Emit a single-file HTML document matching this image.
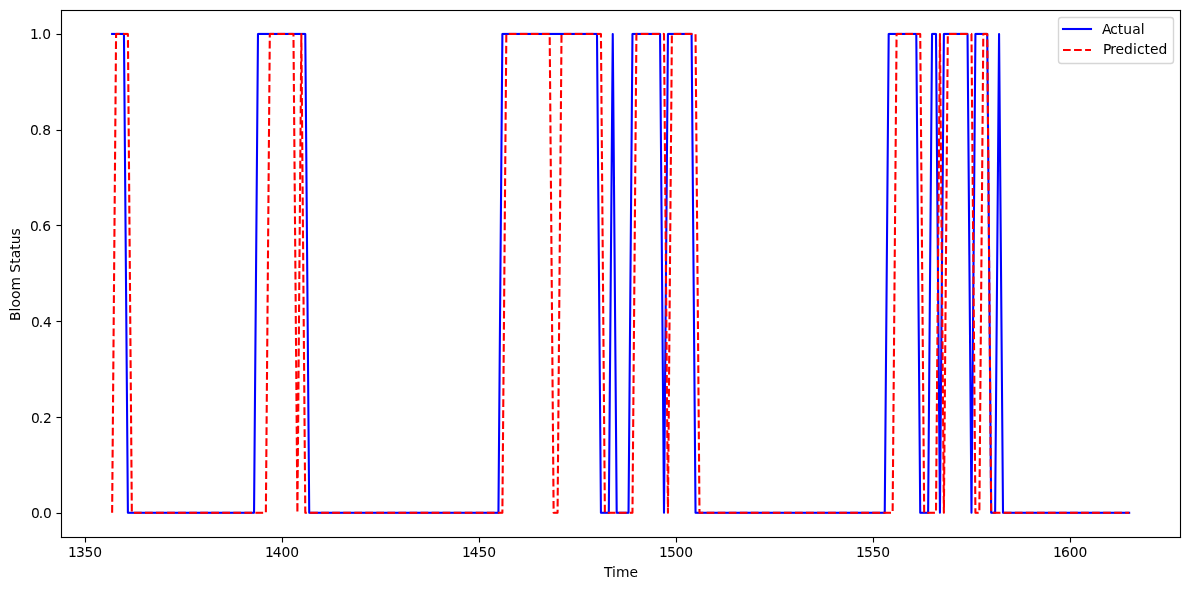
<!DOCTYPE html>
<html lang="en">
<head>
<meta charset="utf-8">
<title>Bloom Status: Actual vs Predicted</title>
<style>
html,body{margin:0;padding:0;background:#fff;}
body{width:1189px;height:590px;overflow:hidden;}
svg{display:block;}
text{font-family:"DejaVu Sans","Liberation Sans",sans-serif;font-size:13.8889px;fill:#000;}
</style>
</head>
<body>
<svg width="1189" height="590" viewBox="0 0 1189 590">
<rect x="0" y="0" width="1189" height="590" fill="#ffffff"/>
<g fill="none" stroke-width="2.0833">
<path d="M112.129 33.942 L123.955 33.942 L127.897 512.780 L254.039 512.780 L257.981 33.942 L305.284 33.942 L309.226 512.780 L498.439 512.780 L502.381 33.942 L596.987 33.942 L600.929 512.780 L608.813 512.780 L612.755 33.942 L616.697 512.780 L628.523 512.780 L632.465 33.942 L660.058 33.942 L664.000 512.780 L667.942 33.942 L691.594 33.942 L695.536 512.780 L884.749 512.780 L888.691 33.942 L916.284 33.942 L920.226 512.780 L928.110 512.780 L932.052 33.942 L935.994 33.942 L939.936 512.780 L943.878 33.942 L967.530 33.942 L971.471 512.780 L975.413 33.942 L987.239 33.942 L991.181 512.780 L995.123 512.780 L999.065 33.942 L1003.007 512.780 L1129.149 512.780" stroke="#0000ff" stroke-linecap="square" stroke-linejoin="round"/>
<path d="M111.09 32.5H123.95" stroke="#0000ff" stroke-width="1" stroke-opacity="0.100"/>
<path d="M127.90 513.5H254.04" stroke="#0000ff" stroke-width="1" stroke-opacity="0.288"/>
<path d="M257.98 32.5H305.28" stroke="#0000ff" stroke-width="1" stroke-opacity="0.100"/>
<path d="M309.23 513.5H498.44" stroke="#0000ff" stroke-width="1" stroke-opacity="0.288"/>
<path d="M502.38 32.5H596.99" stroke="#0000ff" stroke-width="1" stroke-opacity="0.100"/>
<path d="M600.93 513.5H608.81" stroke="#0000ff" stroke-width="1" stroke-opacity="0.288"/>
<path d="M616.70 513.5H628.52" stroke="#0000ff" stroke-width="1" stroke-opacity="0.288"/>
<path d="M632.46 32.5H660.06" stroke="#0000ff" stroke-width="1" stroke-opacity="0.100"/>
<path d="M667.94 32.5H691.59" stroke="#0000ff" stroke-width="1" stroke-opacity="0.100"/>
<path d="M695.54 513.5H884.75" stroke="#0000ff" stroke-width="1" stroke-opacity="0.288"/>
<path d="M888.69 32.5H916.28" stroke="#0000ff" stroke-width="1" stroke-opacity="0.100"/>
<path d="M920.23 513.5H928.11" stroke="#0000ff" stroke-width="1" stroke-opacity="0.288"/>
<path d="M932.05 32.5H935.99" stroke="#0000ff" stroke-width="1" stroke-opacity="0.100"/>
<path d="M943.88 32.5H967.53" stroke="#0000ff" stroke-width="1" stroke-opacity="0.100"/>
<path d="M975.41 32.5H987.24" stroke="#0000ff" stroke-width="1" stroke-opacity="0.100"/>
<path d="M991.18 513.5H995.12" stroke="#0000ff" stroke-width="1" stroke-opacity="0.288"/>
<path d="M1003.01 513.5H1130.19" stroke="#0000ff" stroke-width="1" stroke-opacity="0.288"/>
<path d="M112.129 512.780 L116.071 33.942 L127.897 33.942 L131.838 512.780 L265.864 512.780 L269.806 33.942 L293.458 33.942 L297.400 512.780 L301.342 33.942 L305.284 512.780 L502.381 512.780 L506.323 33.942 L549.684 33.942 L553.626 512.780 L557.568 512.780 L561.510 33.942 L600.929 33.942 L604.871 512.780 L632.465 512.780 L636.407 33.942 L664.000 33.942 L667.942 512.780 L671.884 33.942 L695.536 33.942 L699.478 512.780 L892.633 512.780 L896.575 33.942 L920.226 33.942 L924.168 512.780 L935.994 512.780 L939.936 33.942 L943.878 512.780 L947.820 33.942 L971.471 33.942 L975.413 512.780 L979.355 512.780 L983.297 33.942 L987.239 33.942 L991.181 512.780 L1129.149 512.780" stroke="#ff0000" stroke-linecap="butt" stroke-linejoin="round" stroke-dasharray="7.7083 3.3333"/>
<path d="M116.07 32.5H127.90" stroke="#ff0000" stroke-width="1" stroke-opacity="0.100" stroke-dasharray="7.7083 3.3333" stroke-dashoffset="4.063"/>
<path d="M131.84 513.5H265.86" stroke="#ff0000" stroke-width="1" stroke-opacity="0.288" stroke-dasharray="7.7083 3.3333" stroke-dashoffset="8.910"/>
<path d="M269.81 32.5H293.46" stroke="#ff0000" stroke-width="1" stroke-opacity="0.100" stroke-dasharray="7.7083 3.3333" stroke-dashoffset="3.457"/>
<path d="M305.28 513.5H502.38" stroke="#ff0000" stroke-width="1" stroke-opacity="0.288" stroke-dasharray="7.7083 3.3333" stroke-dashoffset="6.173"/>
<path d="M506.32 32.5H549.68" stroke="#ff0000" stroke-width="1" stroke-opacity="0.100" stroke-dasharray="7.7083 3.3333" stroke-dashoffset="8.583"/>
<path d="M553.63 513.5H557.57" stroke="#ff0000" stroke-width="1" stroke-opacity="0.288" stroke-dasharray="7.7083 3.3333" stroke-dashoffset="0.799"/>
<path d="M561.51 32.5H600.93" stroke="#ff0000" stroke-width="1" stroke-opacity="0.100" stroke-dasharray="7.7083 3.3333" stroke-dashoffset="8.803"/>
<path d="M604.87 513.5H632.46" stroke="#ff0000" stroke-width="1" stroke-opacity="0.288" stroke-dasharray="7.7083 3.3333" stroke-dashoffset="8.119"/>
<path d="M636.41 32.5H664.00" stroke="#ff0000" stroke-width="1" stroke-opacity="0.100" stroke-dasharray="7.7083 3.3333" stroke-dashoffset="6.651"/>
<path d="M671.88 32.5H695.54" stroke="#ff0000" stroke-width="1" stroke-opacity="0.100" stroke-dasharray="7.7083 3.3333" stroke-dashoffset="9.245"/>
<path d="M699.48 513.5H892.63" stroke="#ff0000" stroke-width="1" stroke-opacity="0.288" stroke-dasharray="7.7083 3.3333" stroke-dashoffset="3.835"/>
<path d="M896.57 32.5H920.23" stroke="#ff0000" stroke-width="1" stroke-opacity="0.100" stroke-dasharray="7.7083 3.3333" stroke-dashoffset="2.303"/>
<path d="M924.17 513.5H935.99" stroke="#ff0000" stroke-width="1" stroke-opacity="0.288" stroke-dasharray="7.7083 3.3333" stroke-dashoffset="7.934"/>
<path d="M947.82 32.5H971.47" stroke="#ff0000" stroke-width="1" stroke-opacity="0.100" stroke-dasharray="7.7083 3.3333" stroke-dashoffset="9.865"/>
<path d="M975.41 513.5H979.36" stroke="#ff0000" stroke-width="1" stroke-opacity="0.288" stroke-dasharray="7.7083 3.3333" stroke-dashoffset="4.455"/>
<path d="M983.30 32.5H987.24" stroke="#ff0000" stroke-width="1" stroke-opacity="0.100" stroke-dasharray="7.7083 3.3333" stroke-dashoffset="1.418"/>
<path d="M991.18 513.5H1129.15" stroke="#ff0000" stroke-width="1" stroke-opacity="0.288" stroke-dasharray="7.7083 3.3333" stroke-dashoffset="9.423"/>
</g>
<g stroke="#000" fill="none" stroke-linecap="butt">
<path d="M61.5 10.0V538.0M1180.5 10.0V538.0" stroke-width="3" stroke-opacity="0.0556"/>
<path d="M61.5 9.0V539.0M1180.5 9.0V539.0" stroke-width="1" stroke-opacity="0.0556"/>
<path d="M61.0 10.5H1181.0M61.0 537.5H1181.0" stroke-width="3" stroke-opacity="0.0556"/>
<path d="M60.0 10.5H1182.0M60.0 537.5H1182.0" stroke-width="1" stroke-opacity="0.0556"/>
<path d="M85.5 537.5V542.5M282.5 537.5V542.5M479.5 537.5V542.5M676.5 537.5V542.5M873.5 537.5V542.5M1070.5 537.5V542.5M61.5 513.5H56.5M61.5 417.5H56.5M61.5 321.5H56.5M61.5 225.5H56.5M61.5 130.5H56.5M61.5 34.5H56.5" stroke-width="3" stroke-opacity="0.0556"/>
<path d="M61 10H1181V538H61ZM62 11V537H1180V11Z" fill="#000" fill-rule="evenodd" stroke="none"/>
<path d="M85.5 537.5V542.5M282.5 537.5V542.5M479.5 537.5V542.5M676.5 537.5V542.5M873.5 537.5V542.5M1070.5 537.5V542.5M61.5 513.5H56.5M61.5 417.5H56.5M61.5 321.5H56.5M61.5 225.5H56.5M61.5 130.5H56.5M61.5 34.5H56.5" stroke-width="1"/>
</g>
<rect x="1058.5" y="17.5" width="115" height="46" rx="2.778" ry="2.778" fill="#ffffff" fill-opacity="0.8" stroke="#cccccc" stroke-opacity="0.8" stroke-width="1.3889"/>
<path d="M1063 29H1091" stroke="#0000ff" stroke-width="2.0833" stroke-linecap="square" fill="none"/>
<path d="M1063 50H1091" stroke="#ff0000" stroke-width="2.0833" stroke-linecap="butt" stroke-dasharray="7.7083 3.3333" fill="none"/>
<text x="68.00 76.00 84.50 93.25" y="557">1350</text>
<text x="265.00 272.75 281.50 290.25" y="557">1400</text>
<text x="462.00 469.75 478.50 487.25" y="557">1450</text>
<text x="659.00 667.00 675.50 684.25" y="557">1500</text>
<text x="856.00 864.00 872.50 881.25" y="557">1550</text>
<text x="1053.00 1061.00 1069.75 1078.50" y="557">1600</text>
<text x="31.00 38.75 43.00" y="518">0.0</text>
<text x="31.00 38.75 43.00" y="423">0.2</text>
<text x="31.00 38.75 43.00" y="327">0.4</text>
<text x="30.00 37.75 42.25" y="231">0.6</text>
<text x="30.00 37.75 42.25" y="135">0.8</text>
<text x="30.00 37.75 42.25" y="39">1.0</text>
<text x="604.00 612.00 616.00 629.50" y="577">Time</text>
<text x="1102.00 1110.25 1117.75 1123.25 1132.25 1140.75" y="34">Actual</text>
<text x="1103.00 1110.25 1115.50 1124.00 1133.00 1137.00 1144.50 1150.00 1158.50" y="54">Predicted</text>
<text transform="translate(19.500 320.924) rotate(-90)" x="0.00 9.50 13.50 22.00 30.50 41.00 48.25 57.25 62.75 71.25 76.75 85.50" y="0">Bloom Status</text>
</svg>
</body>
</html>
